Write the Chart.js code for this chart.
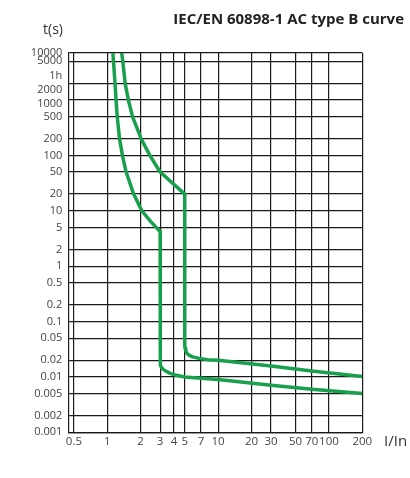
<!DOCTYPE html>
<html>
<head>
<meta charset="utf-8">
<script src="https://cdn.jsdelivr.net/npm/chart.js@4/dist/chart.umd.min.js"></script>
<style>
  html, body { margin: 0; padding: 0; background: #fff; }
  #wrap { position: relative; width: 410px; height: 478px; }
</style>
</head>
<body>
<div id="wrap"><canvas id="chart"></canvas></div>
<script>
// tick values and labels
const xTicks = [0.5, 1, 2, 3, 4, 5, 7, 10, 20, 30, 50, 70, 100, 200];
const yTicks = [10000, 5000, 3600, 2000, 1000, 500, 200, 100, 50, 20, 10, 5, 2, 1, 0.5, 0.2, 0.1, 0.05, 0.02, 0.01, 0.005, 0.002, 0.001];
const yTickLabels = ["10000", "5000", "1h", "2000", "1000", "500", "200", "100", "50", "20", "10", "5", "2", "1", "0.5", "0.2", "0.1", "0.05", "0.02", "0.01", "0.005", "0.002", "0.001"];

// first curve (3 In magnetic step) - I/In and t(s)
const curve1I = [1.11, 1.175, 1.20, 1.23, 1.29, 1.37, 1.48, 1.73, 2.05, 2.48, 3.0, 3.0, 3.02, 3.08, 3.2, 3.4, 3.7, 4.1, 5.0, 10, 30, 70, 200];
const curve1T = [10000, 2000, 1000, 500, 200, 100, 50, 20, 10, 6.3, 4.2, 0.019, 0.0165, 0.0148, 0.0137, 0.0126, 0.0116, 0.0108, 0.0100, 0.0090, 0.0071, 0.0060, 0.0050];

// second curve (5 In magnetic step)
const curve2I = [1.32, 1.38, 1.45, 1.55, 1.69, 2.02, 2.42, 3.0, 5.0, 5.0, 5.03, 5.1, 5.25, 5.5, 5.9, 6.6, 8.0, 10, 30, 70, 200];
const curve2T = [10000, 5000, 2000, 1000, 500, 200, 100, 50, 20, 0.038, 0.033, 0.0295, 0.0265, 0.0245, 0.0230, 0.0218, 0.0205, 0.0200, 0.0157, 0.0128, 0.0102];

const title = "IEC/EN 60898-1 AC type B curve";
const green = "#18a04c";
const gridColor = "#1a1a1a";
const fontFamily = '"Open Sans", "Noto Sans", sans-serif';

const toPoints = (xs, ys) => xs.map((x, i) => ({ x: x, y: ys[i] }));

// extra texts: title and axis names
const labelsPlugin = {
    id: "labels",
    afterDraw(chart) {
        const ctx = chart.ctx;
        ctx.save();
        ctx.fillStyle = "#222";
        ctx.textBaseline = "middle";
        ctx.textAlign = "right";
        ctx.font = "bold 15px " + fontFamily;
        ctx.fillText(title, 404, 20);
        ctx.font = "14px " + fontFamily;
        ctx.fillStyle = "#333";
        ctx.fillText("t(s)", 63, 30);
        ctx.textAlign = "left";
        ctx.font = "15px " + fontFamily;
        ctx.fillText("I/In", 384, 442);
        ctx.restore();
    }
};

new Chart(document.getElementById("chart"), {
    type: "scatter",
    data: {
        datasets: [
            {
                data: toPoints(curve1I, curve1T),
                showLine: true,
                borderColor: green,
                borderWidth: 3.5,
                pointRadius: 0,
                tension: 0,
                borderJoinStyle: "round"
            },
            {
                data: toPoints(curve2I, curve2T),
                showLine: true,
                borderColor: green,
                borderWidth: 3.5,
                pointRadius: 0,
                tension: 0,
                borderJoinStyle: "round"
            }
        ]
    },
    options: {
        responsive: true,
        maintainAspectRatio: false,
        animation: false,
        layout: { padding: { top: 53, right: 47.7, bottom: 0, left: 0 } },
        plugins: {
            legend: { display: false },
            tooltip: { enabled: false }
        },
        scales: {
            x: {
                type: "logarithmic",
                min: 0.445,
                max: 200,
                afterBuildTicks: (scale) => { scale.ticks = xTicks.map(v => ({ value: v })); },
                afterFit: (scale) => { scale.height = 45.7; },
                ticks: {
                    autoSkip: false,
                    maxRotation: 0,
                    padding: 3,
                    color: "#444",
                    font: { family: fontFamily, size: 11.5 },
                    callback: (value, index) => String(xTicks[index])
                },
                grid: { color: gridColor, lineWidth: 1.2, drawTicks: false },
                border: { color: gridColor, width: 1.2 }
            },
            y: {
                type: "logarithmic",
                min: 0.001,
                // the printed grid is squeezed at the top: the "10000" line sits where ~7000 would be
                max: 7050,
                afterBuildTicks: (scale) => { scale.ticks = yTicks.map(v => ({ value: Math.min(v, scale.max) })); },
                afterFit: (scale) => { scale.width = 68.3; },
                ticks: {
                    autoSkip: false,
                    padding: 6,
                    color: "#444",
                    // 1h, 2000 and 1000 are printed a bit below their lines
                    font: (c) => ({ family: fontFamily, size: 11, lineHeight: c.index === 4 ? 0.75 : 1.2 }),
                    callback: (value, index) => (index >= 2 && index <= 4) ? ["", yTickLabels[index]] : yTickLabels[index]
                },
                grid: {
                    color: (c) => (c.tick && c.tick.value === 3600) ? "rgba(0,0,0,0)" : gridColor,
                    lineWidth: 1.2,
                    drawTicks: false
                },
                border: { color: gridColor, width: 1.2 }
            }
        }
    },
    plugins: [labelsPlugin]
});
</script>
</body>
</html>
